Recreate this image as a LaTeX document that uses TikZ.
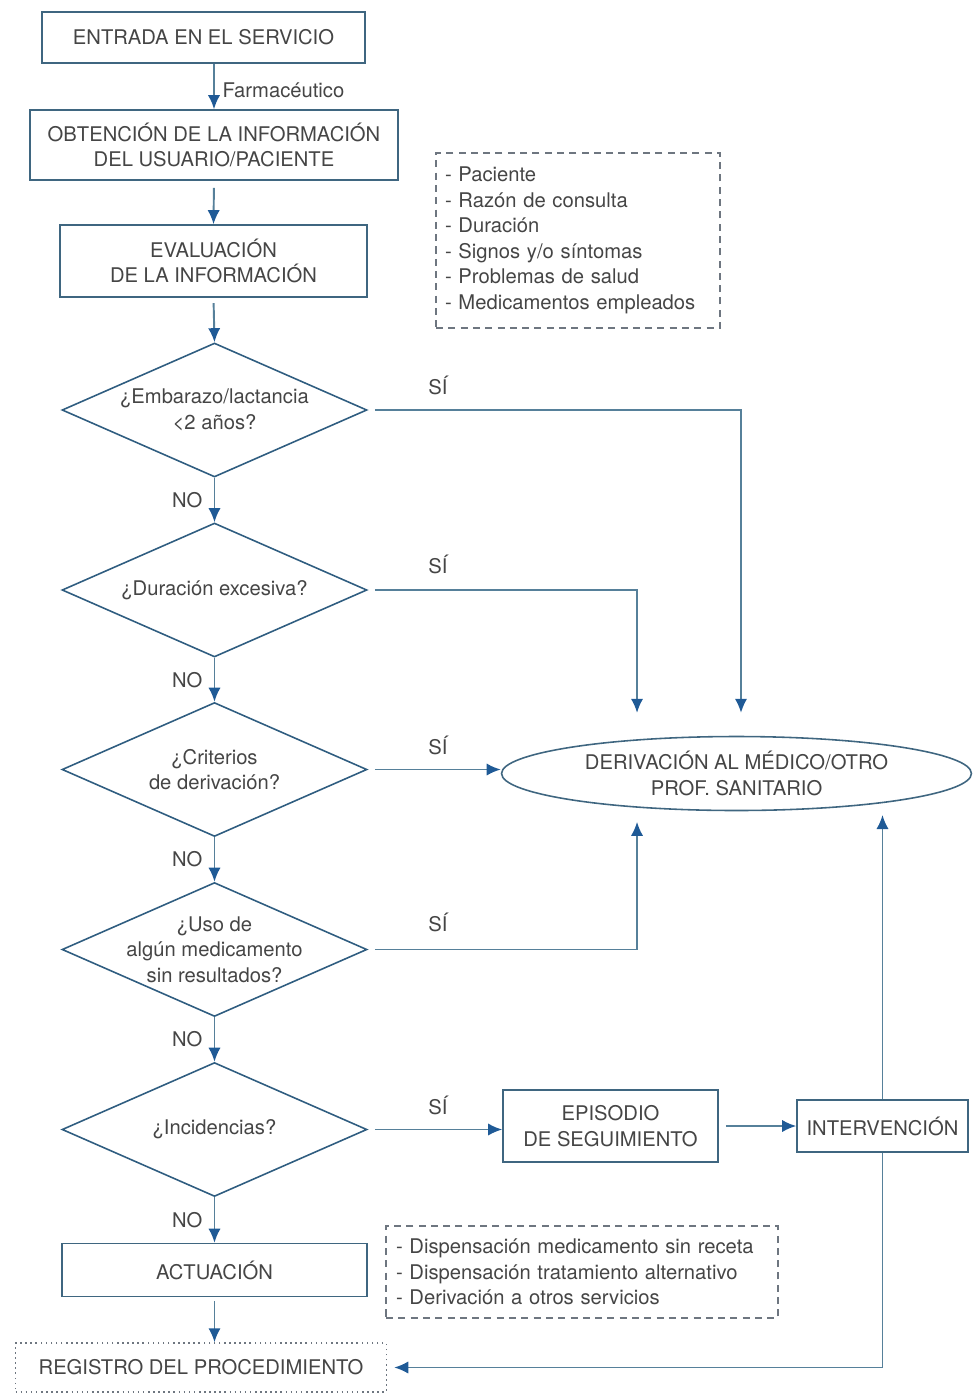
\documentclass[tikz,border=0pt]{standalone}
\usepackage{fontspec}
\setmainfont{TeX Gyre Heros}
\usepackage{tikz}
\usetikzlibrary{arrows.meta, shapes.geometric, calc}

\definecolor{lineblue}{HTML}{56809A}
\definecolor{tipblue}{HTML}{1F5A96}
\definecolor{boxblue}{HTML}{3F6680}
\definecolor{diamblue}{HTML}{2F5D80}
\definecolor{txtgray}{HTML}{454545}
\definecolor{dashgray}{HTML}{6E7680}

\newcommand{\flowfont}{\fontsize{11.5}{14.5}\selectfont}

\tikzset{
  procbox/.style={draw=boxblue, line width=0.9pt, text=txtgray, align=center,
    inner sep=0pt, font=\flowfont},
  qdiam/.style={diamond, draw=diamblue, line width=0.9pt, inner sep=0pt,
    minimum width=6.1cm, minimum height=2.68cm},
  qtext/.style={text=txtgray, align=center, font=\flowfont},
  notebox/.style={draw=dashgray, line width=0.7pt, dash pattern=on 4pt off 3pt,
    text=txtgray, align=left, inner ysep=0pt, font=\flowfont},
  arr/.style={draw=lineblue, line width=1.1pt, -{Latex[length=8pt,width=7pt,color=tipblue]}},
  lbl/.style={text=txtgray, font=\flowfont},
}

\begin{document}
\begin{tikzpicture}[x=0.02cm, y=-0.02cm]
    \useasboundingbox (0,0) rectangle (973,1394);

% main column
\node[procbox, minimum width=6.46cm, minimum height=1.02cm] (entr) at (203.5,37.5) {ENTRADA EN EL SERVICIO};
\node[procbox, minimum width=7.36cm, minimum height=1.40cm] (obt) at (214,145) {OBTENCIÓN DE LA INFORMACIÓN\\DEL USUARIO/PACIENTE};
\node[procbox, minimum width=6.14cm, minimum height=1.44cm] (eval) at (213.5,261) {EVALUACIÓN\\DE LA INFORMACIÓN};

\node[qdiam] (d1) at (214.5,410) {};
\node[qtext] (d1t) at (d1) {¿Embarazo/lactancia\\<2 años?};
\node[qdiam] (d2) at (214.5,590) {};
\node[qtext] (d2t) at (d2) {¿Duración excesiva?};
\node[qdiam] (d3) at (214.5,769.5) {};
\node[qtext] (d3t) at (d3) {¿Criterios\\de derivación?};
\node[qdiam] (d4) at (214.5,949.5) {};
\node[qtext] (d4t) at (d4) {¿Uso de\\algún medicamento\\sin resultados?};
\node[qdiam] (d5) at (214.5,1129.5) {};
\node[qtext] (d5t) at (d5) {¿Incidencias?};

\node[procbox, minimum width=6.1cm, minimum height=1.06cm] (act) at (214.5,1270) {ACTUACIÓN};
\node[procbox, draw=dashgray, dotted, line width=0.8pt, minimum width=7.42cm, minimum height=0.98cm] (reg) at (201,1367.5) {REGISTRO DEL PROCEDIMIENTO};

% right side
\node[notebox, inner xsep=0.18cm, text width=5.32cm, minimum height=3.5cm] (info) at (578,240.5)
  {- Paciente\\- Razón de consulta\\- Duración\\- Signos y/o síntomas\\- Problemas de salud\\- Medicamentos empleados};
\node[notebox, inner xsep=0.2cm, text width=7.44cm, minimum height=1.84cm] (disp) at (582,1272)
  {- Dispensación medicamento sin receta\\- Dispensación tratamiento alternativo\\- Derivación a otros servicios};

\node[ellipse, draw=boxblue, line width=0.9pt, text=txtgray, align=center, inner sep=0pt,
  font=\flowfont, minimum width=9.4cm, minimum height=1.48cm] (der) at (736.5,773.5)
  {DERIVACIÓN AL MÉDICO/OTRO\\PROF. SANITARIO};
\node[procbox, minimum width=4.30cm, minimum height=1.44cm] (epi) at (610.5,1126) {EPISODIO\\DE SEGUIMIENTO};
\node[procbox, minimum width=3.42cm, minimum height=1.04cm] (int) at (882.5,1126) {INTERVENCIÓN};

% down the column
\draw[arr] (obt.north |- entr.south) -- (obt.north) node[lbl, midway, right, xshift=1pt, yshift=-2pt] (farm) {Farmacéutico};
\draw[arr, shorten <=4pt] (obt.south) -- (eval.north);
\draw[arr, shorten <=3pt] (eval.south) -- (d1.north);
\draw[arr] (d1.south) -- (d2.north) node[lbl, midway, left, xshift=-3pt] (no1) {NO};
\draw[arr] (d2.south) -- (d3.north) node[lbl, midway, left, xshift=-3pt] (no2) {NO};
\draw[arr] (d3.south) -- (d4.north) node[lbl, midway, left, xshift=-3pt] (no3) {NO};
\draw[arr] (d4.south) -- (d5.north) node[lbl, midway, left, xshift=-3pt] (no4) {NO};
\draw[arr] (d5.south) -- (d5.south |- act.north) node[lbl, midway, left, xshift=-3pt] (no5) {NO};
\draw[arr, shorten <=2pt] (act.south) -- (act.south |- reg.north);

% yes branches
\draw[arr, shorten <=4pt, shorten >=13pt] (d1.east) -| ([xshift=0.09cm]der.north);
\draw[arr, shorten <=4pt, shorten >=15pt] (d2.east) -| (der.161);
\draw[arr, shorten <=4pt] (d3.east) -- (d3.east -| der.west);
\draw[arr, shorten <=4pt, shorten >=8pt] (d4.east) -| (der.199);
\draw[arr, shorten <=4pt] (d5.east) -- (d5.east -| epi.west);
\node[lbl] (si1) at (438,385) {SÍ};
\node[lbl] (si2) at (438,564) {SÍ};
\node[lbl] (si3) at (438,745) {SÍ};
\node[lbl] (si4) at (438,922) {SÍ};
\node[lbl] (si5) at (438,1105) {SÍ};

\draw[arr, shorten <=4pt] (epi.east) -- (int.west);
\draw[arr, shorten >=7pt] (int.north) -- (int.north |- der.349);
\draw[arr, shorten >=4pt] (int.south) |- (reg.east);
    \end{tikzpicture}
\end{document}
